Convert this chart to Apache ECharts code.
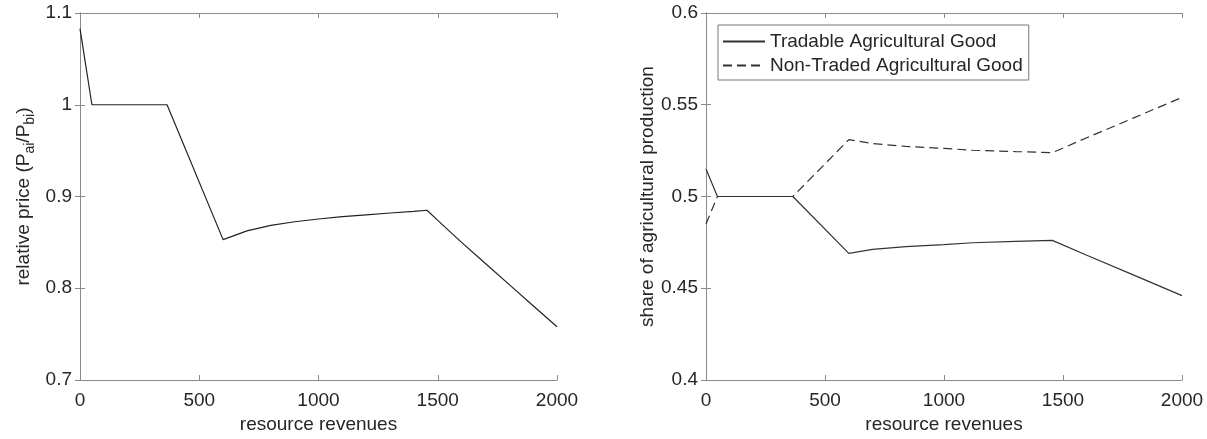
<!DOCTYPE html>
<html>
<head>
<meta charset="utf-8">
<script src="https://cdn.jsdelivr.net/npm/echarts@6/dist/echarts.min.js"></script>
<style>html,body{margin:0;padding:0;background:#fff}#c{width:1207px;height:439px}</style>
</head>
<body>
<div id="c"></div>
<script>
// ---- data ----
const priceX = [0, 50, 365, 600, 700, 800, 900, 1000, 1100, 1200, 1300, 1400, 1455, 1500, 1600, 1700, 1800, 1900, 2000];
const priceY = [1.083, 1.0, 1.0, 0.853, 0.8625, 0.8685, 0.8725, 0.8755, 0.878, 0.880, 0.882, 0.8838, 0.885, 0.874, 0.850, 0.827, 0.804, 0.781, 0.758];

const shareX = [0, 48, 365, 600, 700, 840, 1000, 1120, 1300, 1455, 1600, 1800, 2000];
const tradable = [0.515, 0.5, 0.5, 0.469, 0.4712, 0.4727, 0.4738, 0.4748, 0.4755, 0.4761, 0.468, 0.457, 0.446];
const nonTraded = [0.485, 0.5, 0.5, 0.531, 0.5288, 0.5273, 0.5262, 0.5252, 0.5245, 0.5239, 0.532, 0.543, 0.554];

const seriesNames = ['Tradable Agricultural Good', 'Non-Traded Agricultural Good'];
const xName = 'resource revenues';

const pairs = (xs, ys) => xs.map((x, i) => [x, ys[i]]);

const FONT = '"Liberation Sans", Arial, sans-serif';
const FS = 19;
const TXT = '#262626';
const AX = '#8a8a8a';

function xAxes(gi) {
  const base = { type: 'value', gridIndex: gi, min: 0, max: 2000, interval: 500,
    splitLine: { show: false },
    axisLine: { show: true, lineStyle: { color: AX, width: 1 } },
    axisTick: { show: true, inside: true, length: 5, lineStyle: { color: AX } } };
  return [
    Object.assign({}, base, { position: 'bottom',
      axisLabel: { color: TXT, fontSize: FS, fontFamily: FONT, margin: 11, formatter: v => String(v) },
      name: xName, nameLocation: 'middle', nameGap: 33,
      nameTextStyle: { color: TXT, fontSize: FS, fontFamily: FONT } }),
    Object.assign({}, base, { position: 'top', axisLabel: { show: false } })
  ];
}
function yAxes(gi, min, max, interval, name, gap) {
  const base = { type: 'value', gridIndex: gi, min, max, interval,
    splitLine: { show: false },
    axisLine: { show: true, lineStyle: { color: AX, width: 1 } },
    axisTick: { show: true, inside: true, length: 5, lineStyle: { color: AX } } };
  return [
    Object.assign({}, base, { position: 'left',
      axisLabel: { color: TXT, fontSize: FS, fontFamily: FONT, margin: 8 },
      name, nameLocation: 'middle', nameGap: gap, nameRotate: 90,
      nameTextStyle: { color: TXT, fontSize: FS, fontFamily: FONT,
        rich: {
          n: { fontSize: FS, fontFamily: FONT, color: TXT, lineHeight: 22, verticalAlign: 'bottom' },
          s: { fontSize: 14, fontFamily: FONT, color: TXT, lineHeight: 22, verticalAlign: 'bottom', padding: [0, 0, -4, 0] }
        } } }),
    Object.assign({}, base, { position: 'right', axisLabel: { show: false } })
  ];
}

const chart = echarts.init(document.getElementById('c'), null, { renderer: 'canvas' });
chart.setOption({
  animation: false,
  backgroundColor: '#fff',
  textStyle: { fontFamily: FONT },
  grid: [
    { left: 80, top: 13, width: 477, height: 367 },
    { left: 706, top: 13, width: 476, height: 367 }
  ],
  xAxis: [...xAxes(0), ...xAxes(1)],
  yAxis: [
    ...yAxes(0, 0.7, 1.1, 0.1, '{n|relative price (P}{s|ai}{n|/P}{s|bi}{n|)}', 47),
    ...yAxes(1, 0.4, 0.6, 0.05, 'share of agricultural production', 47)
  ],
  legend: {
    data: seriesNames,
    orient: 'vertical',
    left: 718, top: 25,
    itemWidth: 42, itemHeight: 14, itemGap: 3, itemTextGap: 5,
    padding: [6, 6, 4, 4],
    borderColor: '#777', borderWidth: 1,
    backgroundColor: '#fff',
    itemStyle: { opacity: 0 },
    textStyle: { color: TXT, fontSize: FS, fontFamily: FONT, lineHeight: 21 }
  },
  series: [
    { type: 'line', xAxisIndex: 0, yAxisIndex: 0, data: pairs(priceX, priceY),
      symbol: 'none', lineStyle: { color: '#222', width: 1.2 }, itemStyle: { color: '#222' } },
    { name: seriesNames[0], type: 'line', xAxisIndex: 2, yAxisIndex: 2, data: pairs(shareX, tradable),
      symbol: 'none', lineStyle: { color: '#333', width: 1.2 }, itemStyle: { color: '#333' } },
    { name: seriesNames[1], type: 'line', xAxisIndex: 2, yAxisIndex: 2, data: pairs(shareX, nonTraded),
      symbol: 'none', lineStyle: { color: '#333', width: 1.2, type: [9, 5] }, itemStyle: { color: '#333' } }
  ]
});
</script>
</body>
</html>
